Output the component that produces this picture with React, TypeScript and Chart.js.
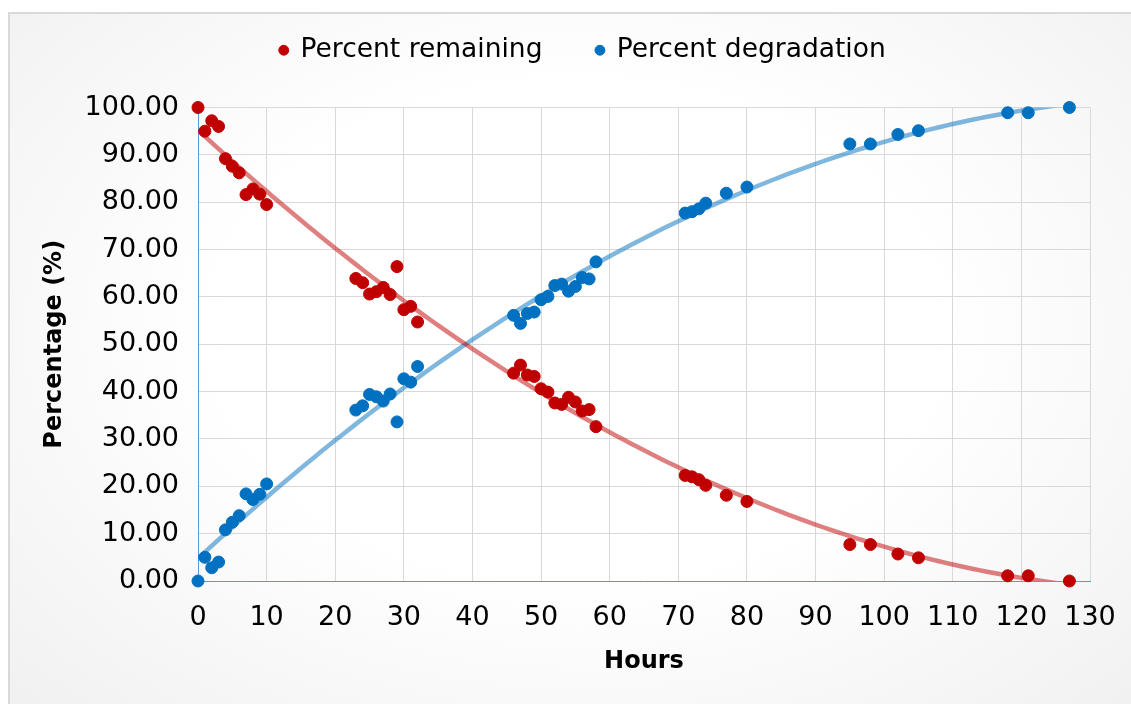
import React, { useEffect, useRef } from 'react';
import { Chart, registerables } from 'chart.js';

Chart.register(...registerables);

const FONT = 'DejaVu Sans';

const seriesLabels = ['Percent remaining', 'Percent degradation'];
const axisTitles = { x: 'Hours', y: 'Percentage (%)' };

const hours = [
  0, 1, 2, 3, 4, 5, 6, 7, 8, 9, 10,
  23, 24, 25, 26, 27, 28, 29, 30, 31, 32,
  46, 47, 48, 49, 50, 51, 52, 53, 54, 55, 56, 57, 58,
  71, 72, 73, 74, 77, 80,
  95, 98, 102, 105, 118, 121, 127,
];

const percentRemaining = [
  100, 95.0, 97.2, 96.0, 89.2, 87.6, 86.2, 81.6, 82.8, 81.7, 79.5,
  63.9, 63.0, 60.6, 61.1, 62.0, 60.5, 66.4, 57.3, 58.0, 54.7,
  43.9, 45.6, 43.5, 43.2, 40.6, 39.9, 37.6, 37.3, 38.8, 37.8, 35.9, 36.2, 32.6,
  22.3, 22.0, 21.4, 20.2, 18.1, 16.8,
  7.7, 7.7, 5.7, 4.9, 1.1, 1.1, 0,
];

const percentDegradation = [
  0, 5.0, 2.8, 4.0, 10.8, 12.4, 13.8, 18.4, 17.2, 18.3, 20.5,
  36.1, 37.0, 39.4, 38.9, 38.0, 39.5, 33.6, 42.7, 42.0, 45.3,
  56.1, 54.4, 56.5, 56.8, 59.4, 60.1, 62.4, 62.7, 61.2, 62.2, 64.1, 63.8, 67.4,
  77.7, 78.0, 78.6, 79.8, 81.9, 83.2,
  92.3, 92.3, 94.3, 95.1, 98.9, 98.9, 100,
];

// Order-2 polynomial trendline (least squares), as the spreadsheet trendline does
function quadFit(xs: number[], ys: number[]) {
  const S = [0, 0, 0, 0, 0];
  const T = [0, 0, 0];
  for (let i = 0; i < xs.length; i++) {
    let p = 1;
    for (let k = 0; k < 5; k++) {
      S[k] += p;
      if (k < 3) T[k] += p * ys[i];
      p *= xs[i];
    }
  }
  const M = [
    [S[0], S[1], S[2], T[0]],
    [S[1], S[2], S[3], T[1]],
    [S[2], S[3], S[4], T[2]],
  ];
  for (let c = 0; c < 3; c++) {
    let piv = c;
    for (let r = c + 1; r < 3; r++) if (Math.abs(M[r][c]) > Math.abs(M[piv][c])) piv = r;
    [M[c], M[piv]] = [M[piv], M[c]];
    for (let r = 0; r < 3; r++) {
      if (r === c) continue;
      const f = M[r][c] / M[c][c];
      for (let k = c; k < 4; k++) M[r][k] -= f * M[c][k];
    }
  }
  return [M[0][3] / M[0][0], M[1][3] / M[1][1], M[2][3] / M[2][2]];
}

function trendPoints(xs: number[], ys: number[]) {
  const [a, b, c] = quadFit(xs, ys);
  const pts: { x: number; y: number }[] = [];
  const x0 = xs[0];
  const x1 = xs[xs.length - 1];
  for (let x = x0; x <= x1; x += 1) pts.push({ x, y: a + b * x + c * x * x });
  return pts;
}

export default function App() {
  const ref = useRef<HTMLCanvasElement | null>(null);

  useEffect(() => {
    if (!ref.current) return;
    Chart.defaults.font.family = FONT;
    const tickFont = { family: FONT, size: 27 };
    const titleFont = { family: FONT, size: 24, weight: 'bold' as const };

    const chart = new Chart(ref.current, {
      type: 'scatter',
      data: {
        datasets: [
          {
            label: seriesLabels[0],
            data: hours.map((h, i) => ({ x: h, y: percentRemaining[i] })),
            backgroundColor: '#c00000',
            borderColor: '#c00000',
            borderWidth: 1,
            pointRadius: 6,
            pointHoverRadius: 6,
            clip: false,
          },
          {
            label: seriesLabels[1],
            data: hours.map((h, i) => ({ x: h, y: percentDegradation[i] })),
            backgroundColor: '#0070c0',
            borderColor: '#0070c0',
            borderWidth: 1,
            pointRadius: 6,
            pointHoverRadius: 6,
            clip: false,
          },
          {
            label: 'trend-remaining',
            data: trendPoints(hours, percentRemaining),
            showLine: true,
            borderColor: 'rgba(192,0,0,0.5)',
            backgroundColor: 'rgba(192,0,0,0.5)',
            borderWidth: 4.5,
            pointRadius: 0,
            pointHoverRadius: 0,
            tension: 0,
          },
          {
            label: 'trend-degradation',
            data: trendPoints(hours, percentDegradation),
            showLine: true,
            borderColor: 'rgba(0,112,192,0.5)',
            backgroundColor: 'rgba(0,112,192,0.5)',
            borderWidth: 4.5,
            pointRadius: 0,
            pointHoverRadius: 0,
            tension: 0,
          },
        ],
      },
      options: {
        animation: false,
        responsive: false,
        maintainAspectRatio: false,
        layout: { padding: { left: 76, right: 41, top: -17, bottom: 0 } },
        plugins: {
          legend: {
            position: 'top',
            labels: {
              filter: (item: any) => item.datasetIndex < 2,
              usePointStyle: true,
              pointStyle: 'circle',
              boxWidth: 7,
              boxHeight: 7,
              padding: 54,
              color: '#000',
              font: { family: FONT, size: 26.5 },
            },
          },
          tooltip: { enabled: false },
        },
        scales: {
          x: {
            type: 'linear',
            position: 'bottom',
            min: 0,
            max: 130,
            ticks: {
              stepSize: 10,
              padding: 21,
              color: '#000',
              font: tickFont,
              autoSkip: false,
              maxRotation: 0,
            },
            grid: { color: '#d9d9d9', lineWidth: 1, drawTicks: false },
            border: { color: '#5b9bd5', width: 1 },
            title: {
              display: true,
              text: axisTitles.x,
              color: '#000',
              font: titleFont,
              padding: { top: 0, bottom: 27.6 },
            },
            afterFit: (s: any) => {
              s.height = 123;
              s.paddingLeft = 0;
              s.paddingRight = 0;
            },
          },
          xTop: {
            type: 'linear',
            position: 'top',
            display: true,
            min: 0,
            max: 130,
            grid: { display: false, drawTicks: false },
            border: { display: false },
            ticks: { display: false },
            afterFit: (s: any) => {
              s.height = 34;
              s.paddingLeft = 0;
              s.paddingRight = 0;
            },
          },
          y: {
            type: 'linear',
            position: 'left',
            min: 0,
            max: 100,
            ticks: {
              stepSize: 10,
              padding: 19,
              color: '#000',
              font: tickFont,
              callback: (v: any) => Number(v).toFixed(2),
            },
            grid: { color: '#d9d9d9', lineWidth: 1, drawTicks: false },
            border: { color: '#5b9bd5', width: 1 },
            title: {
              display: true,
              text: axisTitles.y,
              color: '#000',
              font: titleFont,
              padding: { top: -36, bottom: 0 },
            },
            afterFit: (s: any) => {
              s.width = 122;
              s.paddingTop = 0;
              s.paddingBottom = 0;
            },
          },
        },
      } as any,
    });

    return () => chart.destroy();
  }, []);

  return (
    <div
      style={{
        position: 'fixed',
        left: 0,
        top: 0,
        width: 1131,
        height: 704,
        background: '#ffffff',
        overflow: 'hidden',
      }}
    >
      <div
        style={{
          position: 'absolute',
          left: 8,
          top: 12,
          width: 1140,
          height: 710,
          boxSizing: 'border-box',
          border: '2px solid #d9d9d9',
          background: 'radial-gradient(ellipse at 50% 45%, #ffffff 45%, #f0f0f0 100%)',
        }}
      />
      <canvas
        ref={ref}
        width={1131}
        height={704}
        style={{ position: 'absolute', left: 0, top: 0, width: 1131, height: 704 }}
      />
    </div>
  );
}
